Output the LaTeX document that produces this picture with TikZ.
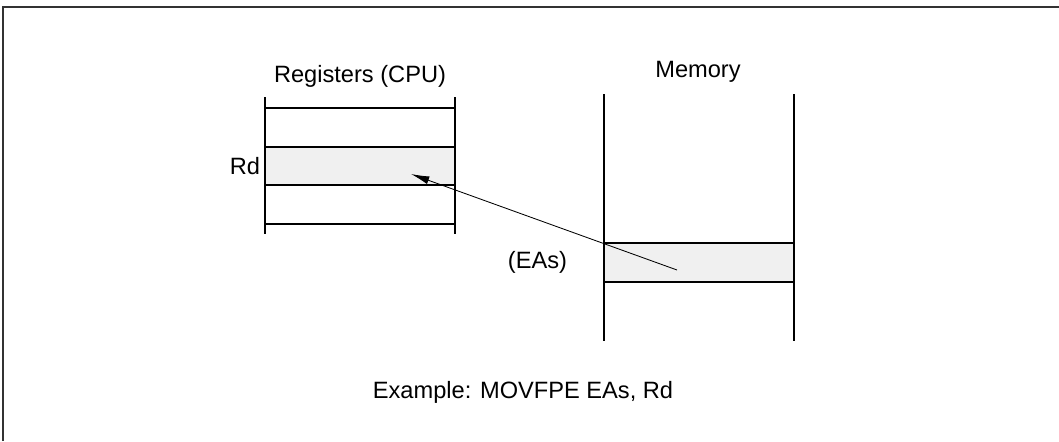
\documentclass[tikz,border=0pt]{standalone}
\usepackage{fontspec}
\setmainfont{Liberation Sans}
\usepackage{xcolor}
\usetikzlibrary{arrows.meta,positioning}

\definecolor{cellgray}{HTML}{F0F0F0}

\begin{document}
\begin{tikzpicture}[x=0.025cm,y=-0.025cm,node distance=0pt,>={Latex[length=4.6mm,width=2mm]}]
\tikzstyle{txt}=[font=\fontsize{16.8}{20}\selectfont]
\tikzstyle{rail}=[line width=1.4pt]
\tikzstyle{cell}=[rectangle,draw=black,line width=1.4pt,outer sep=0pt,inner sep=0pt,minimum width=4.75cm,minimum height=0.96cm]
\useasboundingbox (0,0) rectangle (1059,441);
% frame
\draw[line width=1.4pt,black!80] (3,441) |- (1059,7);
% registers
\draw[rail] (265,97) -- (265,234);
\draw[rail] (455,97) -- (455,234);
\node[cell,fill=cellgray] (rd) at (360,166) {};
\node[cell,above=of rd] (reg1) {};
\node[cell,below=of rd] (reg3) {};
\node[txt,left=0pt of rd] (rdlabel) {Rd};
\node[txt] (reglabel) at (360,76) {Registers (CPU)};
% memory
\draw[rail] (604,94) -- (604,341);
\draw[rail] (794,94) -- (794,341);
\node[cell,fill=cellgray] (eas) at (699,262.5) {};
\node[txt,left=0.8cm of eas] (easlabel) {(EAs)};
\node[txt] (memlabel) at (698,72) {Memory};
% transfer
\coordinate (src) at (677,270);
\coordinate (dst) at (411,174);
\draw[->,line width=0.6pt] (src) -- (dst);
\node[txt] (caption) at (523,392) {Example: MOVFPE EAs, Rd};
\end{tikzpicture}
\end{document}
